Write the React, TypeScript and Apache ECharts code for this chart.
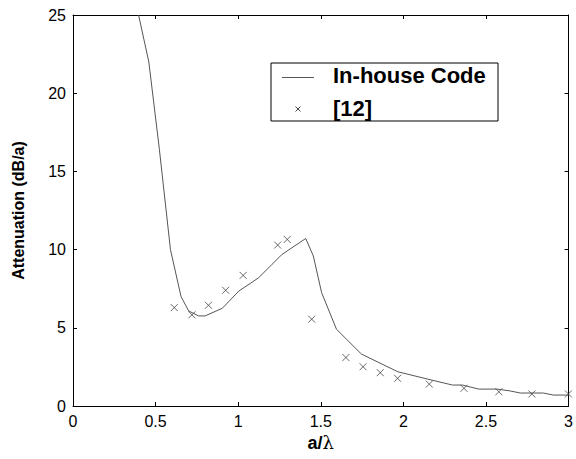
import React, { useEffect, useRef } from "react";
import * as echarts from "echarts";

// In-house code curve: [a/λ, attenuation dB/a]
const codeX = [0.397, 0.459, 0.523, 0.59, 0.654, 0.70, 0.76, 0.80, 0.904, 1.004, 1.124, 1.205, 1.265, 1.409, 1.455, 1.505, 1.595, 1.746, 1.966, 2.147, 2.297, 2.357, 2.457, 2.568, 2.648, 2.708, 2.848, 2.908, 3.0];
const codeY = [25.0, 22.0, 16.4, 10.0, 7.0, 6.08, 5.76, 5.76, 6.25, 7.35, 8.2, 9.06, 9.69, 10.71, 9.59, 7.25, 4.91, 3.32, 2.19, 1.72, 1.34, 1.34, 1.08, 1.08, 0.96, 0.83, 0.83, 0.70, 0.70];

// Reference [12] data points
const refX = [0.613, 0.72, 0.82, 0.924, 1.03, 1.239, 1.297, 1.445, 1.652, 1.756, 1.86, 1.965, 2.157, 2.367, 2.578, 2.778, 2.999];
const refY = [6.29, 5.83, 6.44, 7.4, 8.35, 10.29, 10.65, 5.55, 3.1, 2.51, 2.13, 1.77, 1.4, 1.13, 0.91, 0.77, 0.77];

const seriesNames = ["In-house Code", "[12]"];
const xTicks = { min: 0, max: 3, interval: 0.5 };
const yTicks = { min: 0, max: 25, interval: 5 };

const FONT = "'Liberation Sans', Arial, Helvetica, sans-serif";

export default function App() {
  const ref = useRef<HTMLDivElement>(null);
  useEffect(() => {
    if (!ref.current) return;
    const chart = echarts.init(ref.current, null, { renderer: "svg" });
    const axisCommon = {
      axisLine: { show: true, onZero: false, lineStyle: { color: "#000", width: 1 } },
      axisTick: { show: true, inside: true, length: 4, lineStyle: { color: "#000" } },
      splitLine: { show: false },
    };
    chart.setOption({
      animation: false,
      backgroundColor: "#fff",
      grid: { left: 73, right: 4, top: 15, bottom: 53, containLabel: false },
      xAxis: [
        {
          type: "value",
          ...xTicks,
          ...axisCommon,
          axisLabel: { fontSize: 16, color: "#000", fontFamily: FONT, margin: 7, showMaxLabel: true, showMinLabel: true },
          name: "{b|a/}{l|λ}",
          nameLocation: "middle",
          nameGap: 20,
          nameTextStyle: {
            fontSize: 18,
            color: "#000",
            fontFamily: FONT,
            verticalAlign: "top",
            rich: {
              b: { fontSize: 18, fontWeight: "bold", color: "#000", fontFamily: FONT },
              l: { fontSize: 18, fontWeight: "normal", color: "#000", fontFamily: "'DejaVu Serif', serif" },
            },
          },
        },
        {
          type: "value",
          position: "top",
          ...xTicks,
          ...axisCommon,
          axisLabel: { show: false },
        },
      ],
      yAxis: [
        {
          type: "value",
          ...yTicks,
          ...axisCommon,
          axisLabel: { fontSize: 16, color: "#000", fontFamily: FONT, margin: 7 },
          name: "Attenuation (dB/a)",
          nameLocation: "middle",
          nameGap: 47,
          nameTextStyle: { fontSize: 16, fontWeight: "bold", color: "#000", fontFamily: FONT },
        },
        {
          type: "value",
          position: "right",
          ...yTicks,
          ...axisCommon,
          axisLabel: { show: false },
        },
      ],
      series: [
        {
          name: seriesNames[0],
          type: "line",
          data: codeX.map((x, i) => [x, codeY[i]]),
          showSymbol: false,
          symbol: "none",
          clip: true,
          lineStyle: { color: "#555", width: 1 },
        },
        {
          name: seriesNames[1],
          type: "scatter",
          data: refX.map((x, i) => [x, refY[i]]),
          symbol: "path://M0,0L10,10M10,0L0,10",
          symbolSize: 7,
          clip: false,
          itemStyle: { color: "none", borderColor: "#444", borderWidth: 1 },
        },
      ],
      graphic: [
        {
          type: "group",
          z: 100,
          children: [
            { type: "rect", shape: { x: 271, y: 63, width: 227, height: 58 }, style: { fill: "#fff", stroke: "#000", lineWidth: 1 } },
            { type: "line", shape: { x1: 282, y1: 77.5, x2: 314, y2: 77.5 }, style: { stroke: "#555", lineWidth: 1 } },
            { type: "line", shape: { x1: 295.5, y1: 106.5, x2: 300.5, y2: 111.5 }, style: { stroke: "#444", lineWidth: 1 } },
            { type: "line", shape: { x1: 300.5, y1: 106.5, x2: 295.5, y2: 111.5 }, style: { stroke: "#444", lineWidth: 1 } },
            { type: "text", x: 333, y: 75, style: { text: seriesNames[0], fontSize: 22, fontWeight: "bold", fontFamily: FONT, fill: "#000", verticalAlign: "middle" } },
            { type: "text", x: 333, y: 108, style: { text: seriesNames[1], fontSize: 22, fontWeight: "bold", fontFamily: FONT, fill: "#000", verticalAlign: "middle" } },
          ],
        },
      ],
    });
    return () => chart.dispose();
  }, []);
  return <div ref={ref} style={{ position: "fixed", left: 0, top: 0, width: 576, height: 459 }} />;
}
